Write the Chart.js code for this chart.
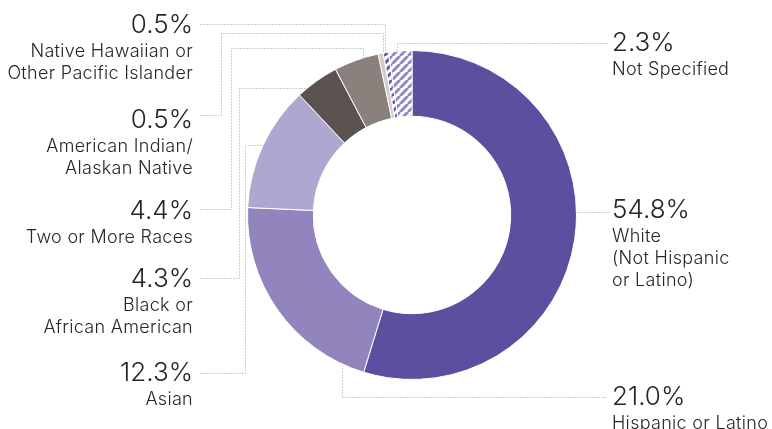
<!DOCTYPE html>
<html lang="en">
<head>
    <meta charset="UTF-8"/>
    <title>Race / Ethnicity</title>
    <script src="https://cdn.jsdelivr.net/npm/chart.js"></script>
    <style>
        body { margin: 0; background: #fff; }
        #wrap { width: 772px; height: 429px; }
    </style>
</head>
<body>
    <div id="wrap"><canvas id="donut" width="772" height="429"></canvas></div>

    <script>
        // data, clockwise from 12 o'clock
        const categories = [
            ['White', '(Not Hispanic', 'or Latino)'],
            ['Hispanic or Latino'],
            ['Asian'],
            ['Black or', 'African American'],
            ['Two or More Races'],
            ['American Indian/', 'Alaskan Native'],
            ['Native Hawaiian or', 'Other Pacific Islander'],
            ['Not Specified']
        ];
        const values = [54.8, 21.0, 12.3, 4.3, 4.4, 0.5, 0.5, 2.3];
        const valueLabels = ['54.8%', '21.0%', '12.3%', '4.3%', '4.4%', '0.5%', '0.5%', '2.3%'];

        // label placement: x, baseline of the big number, side
        const labelPos = [
            [612, 218, 'left'],
            [612, 405, 'left'],
            [193, 381, 'right'],
            [193, 287, 'right'],
            [193, 219, 'right'],
            [193, 128, 'right'],
            [193, 33, 'right'],
            [612, 51, 'left']
        ];
        // leader routes, the last leg runs to the ring ('h' or 'v')
        const leaders = [
            [[[608, 212]], 'h'],
            [[[605, 397], [342, 397]], 'v'],
            [[[200, 373], [245, 373], [245, 145]], 'h'],
            [[[200, 278], [239, 278], [239, 88]], 'h'],
            [[[200, 209], [231, 209], [231, 48], [363, 48]], 'v'],
            [[[200, 115], [221, 115], [221, 33], [383, 33]], 'v'],
            [[[200, 24], [385, 24]], 'v'],
            [[[607, 43], [397, 43]], 'v']
        ];

        function stripes(color) {
            const c = document.createElement('canvas');
            c.width = c.height = 8;
            const g = c.getContext('2d');
            g.fillStyle = '#fff';
            g.fillRect(0, 0, 8, 8);
            g.strokeStyle = color;
            g.lineWidth = 3;
            g.beginPath();
            for (let x0 = -8; x0 <= 8; x0 += 8) {
                g.moveTo(x0, 8);
                g.lineTo(x0 + 8, 0);
            }
            g.stroke();
            return document.getElementById('donut').getContext('2d').createPattern(c, 'repeat');
        }

        const colors = ['#5d4f9f', '#9285bd', '#b0a7d1', '#5c5350', '#8a817c', '#d2cdca', stripes('#6657ab'), stripes('#9587c4')];

        const labelPlugin = {
            id: 'labels',
            afterDraw(chart) {
                const ctx = chart.ctx;
                const arc = chart.getDatasetMeta(0).data[0];
                const cx = arc.x, cy = arc.y, r = arc.outerRadius;
                ctx.save();
                // dotted leaders
                ctx.strokeStyle = '#9a9a9a';
                ctx.lineWidth = 1;
                ctx.setLineDash([1, 2]);
                leaders.forEach(([pts, dir]) => {
                    const last = pts[pts.length - 1];
                    let end;
                    if (dir === 'v') {
                        const dy = Math.sqrt(Math.max(r * r - (last[0] - cx) ** 2, 0));
                        end = [last[0], last[1] < cy ? cy - dy : cy + dy];
                    } else {
                        const dx = Math.sqrt(Math.max(r * r - (last[1] - cy) ** 2, 0));
                        end = [last[0] < cx ? cx - dx : cx + dx, last[1]];
                    }
                    ctx.beginPath();
                    ctx.moveTo(pts[0][0] + 0.5, pts[0][1] + 0.5);
                    pts.slice(1).concat([end]).forEach(p => ctx.lineTo(p[0] + 0.5, p[1] + 0.5));
                    ctx.stroke();
                });
                ctx.setLineDash([]);
                // texts
                ctx.fillStyle = '#262626';
                ctx.textBaseline = 'alphabetic';
                categories.forEach((lines, i) => {
                    const [x, y, side] = labelPos[i];
                    ctx.textAlign = side;
                    ctx.letterSpacing = '0px';
                    ctx.font = '300 26px Inter';
                    ctx.fillText(valueLabels[i], x, y);
                    ctx.letterSpacing = '0.3px';
                    ctx.font = '300 18px Inter';
                    lines.forEach((t, k) => ctx.fillText(t, x, y + 24 + k * 22));
                });
                ctx.restore();
            }
        };

        new Chart(document.getElementById('donut'), {
            type: 'doughnut',
            data: {
                labels: categories.map(l => l.join(' ')),
                datasets: [{
                    data: values,
                    backgroundColor: colors,
                    borderColor: '#ffffff',
                    borderWidth: 1
                }]
            },
            options: {
                responsive: false,
                animation: false,
                devicePixelRatio: 1,
                cutout: '60%',
                events: [],
                layout: { padding: { left: 247, right: 195, top: 50, bottom: 49 } },
                plugins: { legend: { display: false }, tooltip: { enabled: false } }
            },
            plugins: [labelPlugin]
        });
    </script>
</body>
</html>
